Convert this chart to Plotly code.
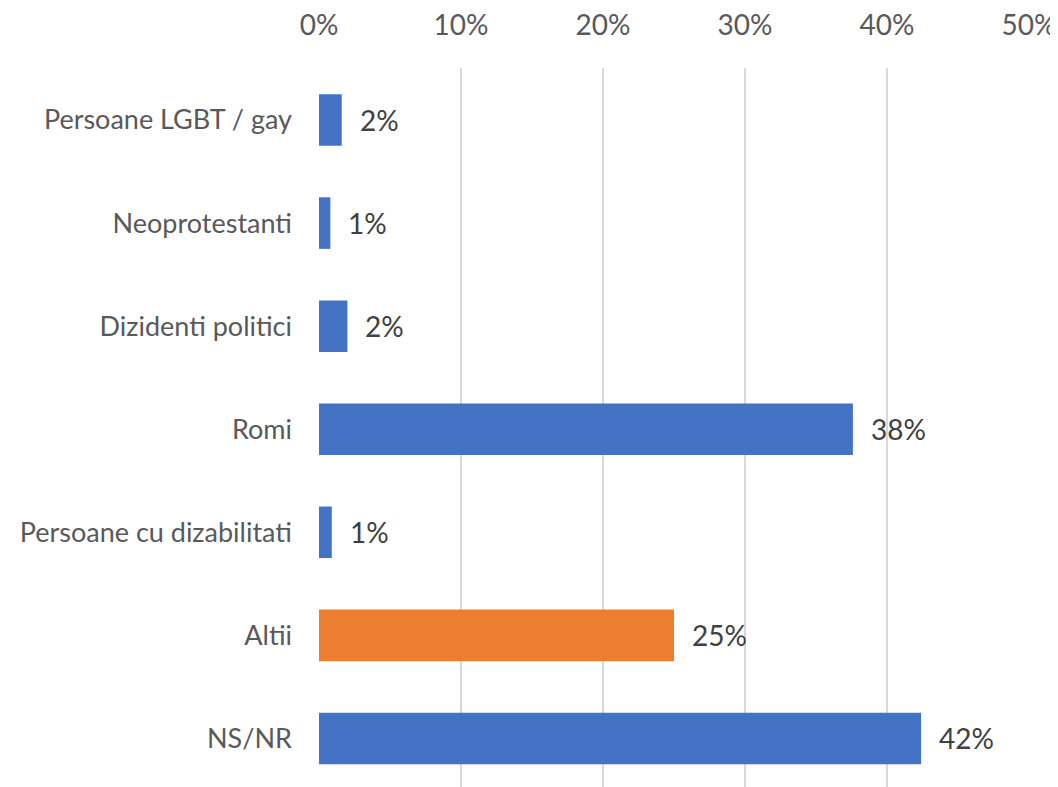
import plotly.graph_objects as go

categories = ["Persoane LGBT / gay", "Neoprotestanti", "Dizidenti politici", "Romi",
              "Persoane cu dizabilitati", "Altii", "NS/NR"]
values = [1.6, 0.8, 2.0, 37.6, 0.9, 25.0, 42.4]
labels = ["2%", "1%", "2%", "38%", "1%", "25%", "42%"]
colors = ["#4472C4", "#4472C4", "#4472C4", "#4472C4", "#4472C4", "#ED7D31", "#4472C4"]
tick_vals = [0, 10, 20, 30, 40, 50]
tick_text = ["0%", "10%", "20%", "30%", "40%", "50%"]

FONT = "Lato"

fig = go.Figure(go.Bar(
    x=values, y=categories, orientation="h",
    marker=dict(color=colors, line=dict(width=0)),
    width=0.5,
))

for v, c, t in zip(values, categories, labels):
    fig.add_annotation(x=v, y=c, text=t, showarrow=False, xanchor="left",
                       xshift=16, font=dict(family=FONT, size=28, color="#404040"))

fig.update_layout(
    width=1050, height=779,
    margin=dict(l=311, r=29, t=60, b=0),
    paper_bgcolor="white", plot_bgcolor="white",
    showlegend=False,
    bargap=0.5,
    font=dict(family=FONT, color="#595959"),
    xaxis=dict(side="top", range=[0, 50], tickvals=tick_vals, ticktext=tick_text,
               showgrid=True, gridcolor="#D9D9D9", gridwidth=1.5, zeroline=False,
               showline=False, ticks="", tickfont=dict(size=28, color="#595959"),
               ticklabelstandoff=26, fixedrange=True),
    yaxis=dict(categoryorder="array", categoryarray=categories, autorange=False,
               showgrid=False, zeroline=False, showline=False, ticks="",
               tickfont=dict(size=27, color="#595959"), ticklabelstandoff=26,
               range=[6.471, -0.5045]),
)

fig.write_html("out.html")
